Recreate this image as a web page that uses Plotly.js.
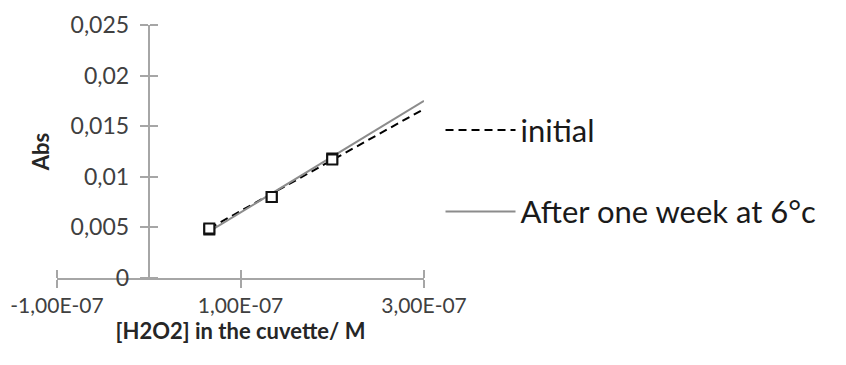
<!DOCTYPE html>
<html>
<head>
<meta charset="utf-8">
<script src="https://cdn.plot.ly/plotly-3.0.1.min.js"></script>
<style>html,body{margin:0;padding:0;background:#fff;}#chart{width:846px;height:365px;}</style>
</head>
<body>
<div id="chart"></div>
<script>
// Data
const conc = [6.6e-8, 1.34e-7, 2.0e-7];           // [H2O2] in the cuvette / M
const absInitial = [0.0049, 0.0080, 0.0117];      // Abs, initial
const absWeek = [0.0048, 0.0080, 0.0118];         // Abs, after one week at 6°C
const trendX = [6.6e-8, 3.0e-7];                  // trend line span
const trendInitial = [0.0049, 0.0167];
const trendWeek = [0.0046, 0.0175];
const seriesNames = ['initial', 'After one week at 6°c'];

const xTickVals = [-1e-7, 1e-7, 3e-7];
const xTickText = ['-1,00E-07', '1,00E-07', '3,00E-07'];
const yTickVals = [0, 0.005, 0.01, 0.015, 0.02, 0.025];
const yTickText = ['0', '0,005', '0,01', '0,015', '0,02', '0,025'];

const FONT = 'Lato, "Open Sans", sans-serif';
const AXC = '#a6a6a6';

const traces = [
  {x: trendX, y: trendInitial, name: seriesNames[0], mode: 'lines', legendgroup: 'a',
   line: {color: '#000000', width: 2, dash: '8px,5px'}},
  {x: trendX, y: trendWeek, name: seriesNames[1], mode: 'lines', legendgroup: 'b',
   line: {color: '#8c8c8c', width: 2}},
  {x: conc, y: absWeek, mode: 'markers', showlegend: false,
   marker: {symbol: 'square', size: 10, color: '#ffffff', line: {color: '#111111', width: 2}}},
  {x: conc, y: absInitial, mode: 'markers', showlegend: false,
   marker: {symbol: 'square', size: 10, color: '#ffffff', line: {color: '#111111', width: 2}}}
];

const layout = {
  width: 846, height: 365,
  margin: {l: 57, r: 422, t: 25, b: 87},
  paper_bgcolor: '#ffffff', plot_bgcolor: '#ffffff',
  font: {family: FONT, color: '#404040'},
  showlegend: true,
  legend: {x: 1.045, xanchor: 'left', y: 0.69, yanchor: 'top',
           font: {family: FONT, size: 31, color: '#1a1a1a'},
           bgcolor: 'rgba(0,0,0,0)', borderwidth: 0, tracegroupgap: 38,
           traceorder: 'grouped', itemwidth: 70},
  xaxis: {range: [-1e-7, 3e-7], tickvals: xTickVals, ticktext: xTickText,
          showline: true, linecolor: AXC, linewidth: 2, ticks: 'outside', ticklen: 8,
          tickwidth: 2, tickcolor: AXC, showgrid: false, zeroline: false,
          minor: {ticks: 'inside', tick0: -1e-7, dtick: 2e-7, ticklen: 8, tickwidth: 2, tickcolor: AXC, showgrid: false},
          tickfont: {family: FONT, size: 21, color: '#404040'},
          title: {text: '[H2O2] in the cuvette/ M', standoff: 6,
                  font: {family: FONT, size: 22, color: '#262626', weight: 'bold'}}},
  yaxis: {range: [0, 0.025], tickvals: yTickVals, ticktext: yTickText,
          anchor: 'free', position: 0.25,
          showline: true, linecolor: AXC, linewidth: 2, ticks: 'outside', ticklen: 8,
          tickwidth: 2, tickcolor: AXC, showgrid: false, zeroline: false,
          minor: {ticks: 'inside', tick0: 0, dtick: 0.005, ticklen: 8, tickwidth: 2, tickcolor: AXC, showgrid: false},
          ticklabelstandoff: 6,
          tickfont: {family: FONT, size: 23, color: '#404040'},
          title: {text: 'Abs', standoff: 14,
                  font: {family: FONT, size: 22, color: '#262626', weight: 'bold'}}}
};

Plotly.newPlot('chart', traces, layout, {displayModeBar: false, staticPlot: true});
</script>
</body>
</html>
